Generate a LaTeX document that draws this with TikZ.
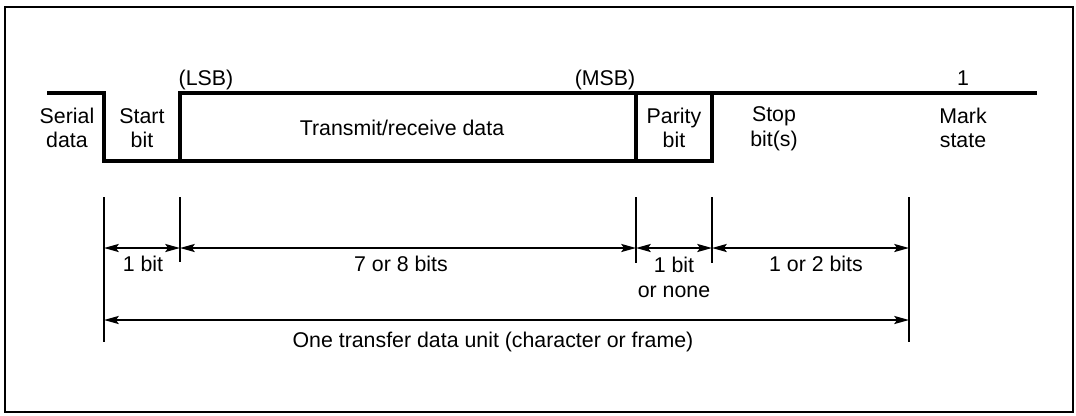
\documentclass[tikz,border=0pt]{standalone}
\usepackage{fontspec}
\setmainfont{Liberation Sans}
\usetikzlibrary{arrows.meta}
\begin{document}
\begin{tikzpicture}[x=0.75pt,y=-0.75pt,
  wave/.style={line width=2.5pt, line join=miter},
  tickline/.style={line width=1.8pt},
  dimline/.style={line width=1.4pt, {Stealth[length=11pt,width=6pt,inset=2pt]}-{Stealth[length=11pt,width=6pt,inset=2pt]}},
  lbl/.style={font=\fontsize{16}{18.5}\selectfont, align=center, inner sep=0pt},
  framebox/.style={line width=1.8pt}]
\useasboundingbox (0,0) rectangle (1076,415);
\draw[framebox] (5,7) rectangle (1073,412);

% waveform
\coordinate (w0) at (47,93);
\coordinate (w1) at (104,93);
\coordinate (w2) at (104,161);
\coordinate (w3) at (180,161);
\coordinate (w4) at (180,93);
\coordinate (w5) at (1037,93);
\coordinate (p1) at (636,93);
\coordinate (p2) at (636,161);
\coordinate (p3) at (712,93);
\coordinate (p4) at (712,161);
\draw[wave] (w0) -- (w1) -- (w2) -- (w3) -- (w4) -- (w5);
\draw[wave] (w3) -- (p4) -- (p3);
\draw[wave] (p1) -- (p2);

% labels on waveform
\node[lbl, anchor=base] (lsb) at (206,85) {(LSB)};
\node[lbl, anchor=base] (msb) at (605,85) {(MSB)};
\node[lbl, anchor=base] (one) at (963,85) {1};
\node[lbl] (serial) at (67,128) {Serial\\data};
\node[lbl] (start) at (142,128) {Start\\bit};
\node[lbl, anchor=base] (trx) at (402,135) {Transmit/receive data};
\node[lbl] (parity) at (674,128) {Parity\\bit};
\node[lbl] (stop) at (774,129) {Stop\\bit(s)};
\node[lbl] (mark) at (963,128) {Mark\\state};

% ticks
\coordinate (t1a) at (104,197); \coordinate (t1b) at (104,342);
\coordinate (t2a) at (180,197); \coordinate (t2b) at (180,262);
\coordinate (t3a) at (636,197); \coordinate (t3b) at (636,263);
\coordinate (t4a) at (712,197); \coordinate (t4b) at (712,263);
\coordinate (t5a) at (909,197); \coordinate (t5b) at (909,342);
\foreach \t in {1,...,5} \draw[tickline] (t\t a) -- (t\t b);

% dimension arrows
\coordinate (a1) at (104,248);
\coordinate (a2) at (180,248);
\coordinate (a3) at (636,248);
\coordinate (a4) at (712,248);
\coordinate (a5) at (909,248);
\coordinate (b1) at (104,320);
\coordinate (b5) at (909,320);
\draw[dimline] (a1) -- (a2);
\draw[dimline] (a2) -- (a3);
\draw[dimline] (a3) -- (a4);
\draw[dimline] (a4) -- (a5);
\draw[dimline] (b1) -- (b5);

\node[lbl, anchor=base] (l1) at (143,271) {1 bit};
\node[lbl, anchor=base] (l2) at (401,271) {7 or 8 bits};
\node[lbl, anchor=north] (l3) at (674,257) {1 bit\\or none};
\node[lbl, anchor=base] (l4) at (816,271) {1 or 2 bits};
\node[lbl, anchor=base] (l5) at (493,347) {One transfer data unit (character or frame)};
\end{tikzpicture}
\end{document}
